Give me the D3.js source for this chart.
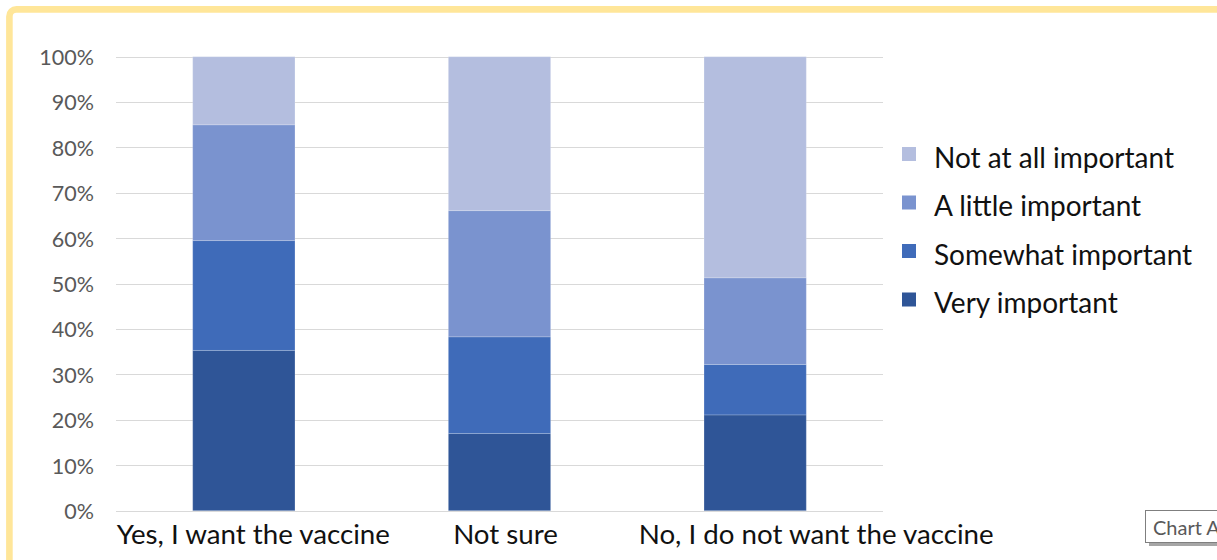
<!DOCTYPE html>
<html>
<head>
<meta charset="utf-8">
<script src="https://cdn.jsdelivr.net/npm/d3@7"></script>
<style>
  html, body { margin: 0; padding: 0; background: #fff; }
  svg { display: block; }
  text { font-family: Lato, "Open Sans", sans-serif; }
</style>
</head>
<body>
<svg id="chart" width="1217" height="560"></svg>
<script>
// Survey answers: importance by vaccine intention (percent of each group)
const categories = ["Yes, I want the vaccine", "Not sure", "No, I do not want the vaccine"];
const veryImportant     = [35.3, 17.0, 21.1];
const somewhatImportant = [24.2, 21.3, 11.1];
const littleImportant   = [25.5, 27.8, 19.1];
const notAtAllImportant = [15.0, 33.9, 48.7];
const seriesNames = ["Very important", "Somewhat important", "A little important", "Not at all important"];
const yTicks = [0, 10, 20, 30, 40, 50, 60, 70, 80, 90, 100];

const colors = {
  "Very important": "#2f5597",
  "Somewhat important": "#3f6bb9",
  "A little important": "#7a93cf",
  "Not at all important": "#b4bedf"
};

const svg = d3.select("#chart");
const W = 1217, H = 560;
const plot = { left: 116, right: 883, top: 56.7, bottom: 510.7 };

// Frame around the chart area
svg.append("rect")
  .attr("x", 9.4).attr("y", 9.4)
  .attr("width", W + 40).attr("height", H + 40)
  .attr("rx", 7)
  .attr("fill", "none")
  .attr("stroke", "#ffe699")
  .attr("stroke-width", 6.6);

const x = d3.scaleBand()
  .domain(categories)
  .range([plot.left, plot.right])
  .paddingInner(0.6)
  .paddingOuter(0.3);

const y = d3.scaleLinear().domain([0, 100]).range([plot.bottom, plot.top]);

// Gridlines
svg.append("g")
  .selectAll("line")
  .data(yTicks)
  .join("line")
  .attr("x1", plot.left).attr("x2", plot.right)
  .attr("y1", d => Math.round(y(d)) + 0.5).attr("y2", d => Math.round(y(d)) + 0.5)
  .attr("stroke", "#d9d9d9")
  .attr("stroke-width", 1.2);

// Y axis labels
const yAxis = d3.axisLeft(y).tickValues(yTicks).tickFormat(d => d + "%").tickSize(0).tickPadding(0);
const yG = svg.append("g").attr("transform", `translate(${plot.left - 22},0)`).call(yAxis);
yG.select(".domain").remove();
yG.selectAll("text")
  .attr("fill", "#595959")
  .style("font-size", "21.5px")
  .style("font-family", "Lato, 'Open Sans', sans-serif")
  .attr("dy", "0.36em");

// Stack the series
const rows = categories.map((c, i) => ({
  category: c,
  "Very important": veryImportant[i],
  "Somewhat important": somewhatImportant[i],
  "A little important": littleImportant[i],
  "Not at all important": notAtAllImportant[i]
}));
const stacked = d3.stack().keys(seriesNames)(rows);

svg.append("g")
  .selectAll("g")
  .data(stacked)
  .join("g")
  .attr("fill", d => colors[d.key])
  .selectAll("rect")
  .data(d => d)
  .join("rect")
  .attr("x", d => x(d.data.category))
  .attr("width", x.bandwidth())
  .attr("y", d => y(d[1]))
  .attr("height", d => y(d[0]) - y(d[1]))
  .attr("stroke", "#ffffff")
  .attr("stroke-opacity", 0.18)
  .attr("stroke-width", 1);

// Category labels
const labelShift = [9.5, 6, 61];
svg.append("g")
  .selectAll("text")
  .data(categories)
  .join("text")
  .attr("x", (d, i) => x(d) + x.bandwidth() / 2 + labelShift[i])
  .attr("y", 544)
  .attr("text-anchor", "middle")
  .attr("fill", "#111")
  .style("font-size", "27.7px")
  .text(d => d);

// Legend
const legendOrder = seriesNames.slice().reverse();
const lg = svg.append("g").attr("transform", "translate(902,0)");
const legendRow = lg.selectAll("g")
  .data(legendOrder)
  .join("g")
  .attr("transform", (d, i) => `translate(0,${154 + i * 48.5})`);
legendRow.append("rect")
  .attr("x", 0).attr("y", -7)
  .attr("width", 14).attr("height", 14)
  .attr("fill", d => colors[d]);
legendRow.append("text")
  .attr("x", 32).attr("y", 13.5)
  .attr("fill", "#111")
  .style("font-size", "28px")
  .text(d => d);

// Hover tag at the lower right
const tag = svg.append("g");
tag.append("rect")
  .attr("x", 1149).attr("y", 513)
  .attr("width", 90).attr("height", 33)
  .attr("fill", "#a6a6a6");
tag.append("rect")
  .attr("x", 1145.5).attr("y", 510.5)
  .attr("width", 90).attr("height", 32)
  .attr("fill", "#fff")
  .attr("stroke", "#7f7f7f")
  .attr("stroke-width", 1);
tag.append("text")
  .attr("x", 1153).attr("y", 535)
  .attr("fill", "#595959")
  .style("font-size", "20px")
  .text("Chart A");
</script>
</body>
</html>
